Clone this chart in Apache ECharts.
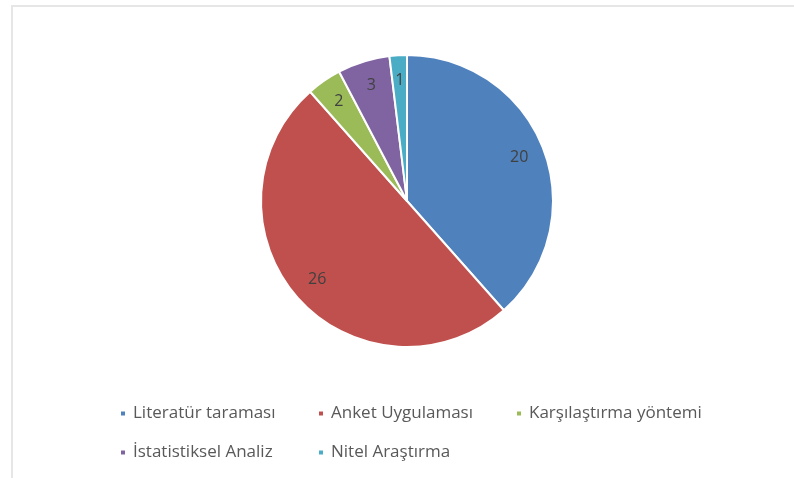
<!DOCTYPE html>
<html>
<head>
<meta charset="utf-8">
<script src="https://cdn.jsdelivr.net/npm/echarts@6/dist/echarts.min.js"></script>
<style>
  html, body { margin: 0; padding: 0; background: #fff; }
  #frame {
    position: absolute; left: 11px; top: 5px; width: 783px; height: 473px;
    border-left: 2px solid #e6e6e6; border-top: 2px solid #e6e6e6;
  }
  #chart { position: absolute; left: 0; top: 0; width: 794px; height: 478px; }
</style>
</head>
<body>
<div id="frame"></div>
<div id="chart"></div>
<script>
const categories = ['Literatür taraması', 'Anket Uygulaması', 'Karşılaştırma yöntemi', 'İstatistiksel Analiz', 'Nitel Araştırma'];
const counts = [20, 26, 2, 3, 1];
const colors = ['#4f81bd', '#c0504d', '#9bbb59', '#8064a2', '#4bacc6'];

const pieData = categories.map((name, i) => ({ name, value: counts[i] }));

const chart = echarts.init(document.getElementById('chart'), null, { renderer: 'canvas' });

chart.setOption({
  animation: false,
  color: colors,
  legend: {
    data: categories,
    left: 114,
    top: 400,
    width: 650,
    orient: 'horizontal',
    icon: 'rect',
    itemWidth: 6,
    itemHeight: 6,
    itemGap: 22,
    formatter: '{t|{name}}',
    textStyle: {
      fontFamily: 'Open Sans',
      fontSize: 17,
      color: '#595959',
      rich: {
        t: {
          fontFamily: 'Open Sans',
          fontSize: 17,
          color: '#595959',
          width: 162,
          lineHeight: 24,
          padding: [0, 0, 0, 2]
        }
      }
    },
    selectedMode: false
  },
  series: [
    {
      name: 'main',
      type: 'pie',
      center: [407, 201],
      radius: [0, 146],
      startAngle: 90,
      clockwise: true,
      avoidLabelOverlap: false,
      itemStyle: { borderColor: '#fff', borderWidth: 2 },
      label: { show: false },
      labelLine: { show: false },
      emphasis: { disabled: true },
      data: pieData
    },
    {
      name: 'labels',
      type: 'pie',
      silent: true,
      center: [407, 200],
      radius: [90, 144],
      startAngle: 90,
      clockwise: true,
      avoidLabelOverlap: false,
      itemStyle: { color: 'rgba(0,0,0,0)', borderWidth: 0 },
      label: {
        show: true,
        position: 'inside',
        formatter: '{c}',
        fontFamily: 'Open Sans',
        fontSize: 16,
        color: '#404040'
      },
      labelLine: { show: false },
      emphasis: { disabled: true },
      data: pieData
    }
  ]
});
</script>
</body>
</html>
